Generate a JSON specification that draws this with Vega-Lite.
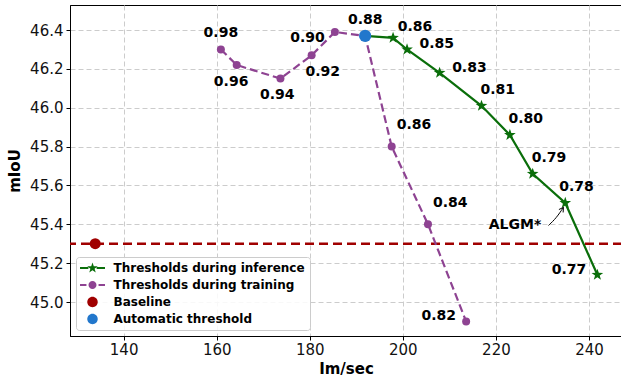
{
  "$schema": "https://vega.github.io/schema/vega-lite/v6.json",
  "width": 552,
  "height": 331,
  "autosize": {"type": "none"},
  "padding": {"left": 70, "top": 5, "right": 0, "bottom": 47},
  "config": {
    "font": "DejaVu Sans",
    "view": {"stroke": "black", "strokeWidth": 1},
    "axis": {
      "grid": true,
      "gridColor": "#cccccc", "gridDash": [5, 3], "gridWidth": 1,
      "domainColor": "black", "tickColor": "black", "tickSize": 4,
      "labelFont": "DejaVu Sans", "labelFontSize": 15, "labelColor": "#111111",
      "titleFont": "DejaVu Sans", "titleFontSize": 15, "titleFontWeight": "bold", "titleColor": "black"
    },
    "legend": {
      "orient": "bottom-left", "offset": 6, "padding": 5,
      "strokeColor": "#cccccc", "fillColor": "rgba(255,255,255,0.85)", "cornerRadius": 3,
      "labelFont": "DejaVu Sans", "labelFontWeight": "bold", "labelFontSize": 12, "labelColor": "black", "labelLimit": 400,
      "symbolOffset": 5.5, "labelOffset": 15, "rowPadding": 5,
      "symbolOpacity": 1, "symbolStrokeWidth": 0, "symbolSize": 121
    }
  },
  "datasets": {
    "train": [
      {"x": 160.9, "y": 46.30}, {"x": 164.3, "y": 46.22}, {"x": 173.7, "y": 46.15},
      {"x": 180.4, "y": 46.27}, {"x": 185.4, "y": 46.39}, {"x": 191.9, "y": 46.37},
      {"x": 197.6, "y": 45.80}, {"x": 205.4, "y": 45.40}, {"x": 213.6, "y": 44.90}
    ],
    "infer": [
      {"x": 191.9, "y": 46.37}, {"x": 197.9, "y": 46.36}, {"x": 200.9, "y": 46.30},
      {"x": 207.9, "y": 46.18}, {"x": 216.9, "y": 46.01}, {"x": 223.0, "y": 45.86},
      {"x": 227.9, "y": 45.66}, {"x": 234.9, "y": 45.51}, {"x": 241.8, "y": 45.14}
    ],
    "labels": [
      {"label": "0.98", "x": 160.9, "y": 46.383},
      {"label": "0.96", "x": 163.1, "y": 46.134},
      {"label": "0.94", "x": 173.0, "y": 46.064},
      {"label": "0.92", "x": 182.8, "y": 46.185},
      {"label": "0.90", "x": 179.5, "y": 46.358},
      {"label": "0.88", "x": 191.9, "y": 46.451},
      {"label": "0.86", "x": 202.4, "y": 45.911},
      {"label": "0.84", "x": 210.2, "y": 45.512},
      {"label": "0.82", "x": 207.7, "y": 44.927},
      {"label": "0.86", "x": 202.6, "y": 46.414},
      {"label": "0.85", "x": 207.3, "y": 46.327},
      {"label": "0.83", "x": 214.3, "y": 46.207},
      {"label": "0.81", "x": 220.4, "y": 46.091},
      {"label": "0.80", "x": 226.4, "y": 45.942},
      {"label": "0.79", "x": 231.4, "y": 45.743},
      {"label": "0.78", "x": 237.3, "y": 45.592},
      {"label": "0.77", "x": 235.7, "y": 45.165},
      {"label": "ALGM*", "x": 224.1, "y": 45.394}
    ],
    "arrow": [
      {"x": 231.3, "y": 45.394}, {"x": 233.0, "y": 45.433}, {"x": 234.5, "y": 45.487}
    ],
    "arrowhead": [
      {"x": 234.5, "y": 45.487, "x2": 233.53, "y2": 45.476},
      {"x": 234.5, "y": 45.487, "x2": 234.44, "y2": 45.461}
    ],
    "legend": [
      {"series": "Thresholds during inference"},
      {"series": "Thresholds during training"},
      {"series": "Baseline"},
      {"series": "Automatic threshold"}
    ]
  },
  "encoding": {
    "x": {"type": "quantitative", "scale": {"domain": [128.48, 247.09], "nice": false, "zero": false},
          "axis": {"values": [140, 160, 180, 200, 220, 240], "title": "Im/sec", "titlePadding": 4, "labelPadding": 2, "grid": true}},
    "y": {"type": "quantitative", "scale": {"domain": [44.825, 46.529], "nice": false, "zero": false},
          "axis": {"values": [45.0, 45.2, 45.4, 45.6, 45.8, 46.0, 46.2, 46.4], "format": ".1f", "title": "mIoU", "titlePadding": 7, "labelPadding": 3, "grid": true}}
  },
  "layer": [
    {
      "data": {"values": [{"baseline": 45.3}]},
      "mark": {"type": "rule", "color": "#a00000", "strokeWidth": 2.5, "strokeDash": [9, 5]},
      "encoding": {"y": {"field": "baseline"}}
    },
    {
      "data": {"name": "train"},
      "mark": {"type": "line", "color": "#8e4392", "strokeWidth": 2.2, "strokeDash": [8, 4], "point": {"filled": true, "size": 64, "color": "#8e4392", "opacity": 1}},
      "encoding": {"x": {"field": "x"}, "y": {"field": "y"}, "order": {"field": "x"}}
    },
    {
      "data": {"name": "infer"},
      "mark": {"type": "line", "color": "#0a6e0a", "strokeWidth": 2.2},
      "encoding": {"x": {"field": "x"}, "y": {"field": "y"}, "order": {"field": "x"}}
    },
    {
      "data": {"name": "infer"},
      "transform": [{"filter": "datum.x > 192"}],
      "mark": {"type": "point", "shape": "M0,-1 L0.235,-0.324 L0.951,-0.309 L0.38,0.124 L0.588,0.809 L0,0.4 L-0.588,0.809 L-0.38,0.124 L-0.951,-0.309 L-0.235,-0.324 Z", "filled": true, "size": 150, "color": "#0a6e0a", "opacity": 1},
      "encoding": {"x": {"field": "x"}, "y": {"field": "y"}}
    },
    {
      "data": {"values": [{"x": 133.9, "y": 45.3}]},
      "mark": {"type": "point", "shape": "circle", "filled": true, "size": 121, "color": "#a00000", "opacity": 1},
      "encoding": {"x": {"field": "x"}, "y": {"field": "y"}}
    },
    {
      "data": {"values": [{"x": 191.9, "y": 46.37}]},
      "mark": {"type": "point", "shape": "circle", "filled": true, "size": 150, "color": "#2277cc", "opacity": 1},
      "encoding": {"x": {"field": "x"}, "y": {"field": "y"}}
    },
    {
      "data": {"name": "labels"},
      "mark": {"type": "text", "font": "DejaVu Sans", "fontWeight": "bold", "fontSize": 14, "color": "black", "align": "center", "baseline": "middle"},
      "encoding": {"x": {"field": "x"}, "y": {"field": "y"}, "text": {"field": "label"}}
    },
    {
      "data": {"name": "arrow"},
      "mark": {"type": "line", "color": "black", "strokeWidth": 1, "interpolate": "basis"},
      "encoding": {"x": {"field": "x"}, "y": {"field": "y"}, "order": {"field": "x"}}
    },
    {
      "data": {"name": "arrowhead"},
      "mark": {"type": "rule", "color": "black", "strokeWidth": 1},
      "encoding": {"x": {"field": "x"}, "y": {"field": "y"}, "x2": {"field": "x2"}, "y2": {"field": "y2"}}
    },
    {
      "data": {"name": "legend"},
      "mark": {"type": "point", "filled": true, "size": 121, "opacity": 0},
      "encoding": {
        "x": {"datum": 150},
        "y": {"datum": 46.0},
        "color": {"field": "series", "type": "nominal",
          "scale": {"domain": ["Thresholds during inference", "Thresholds during training", "Baseline", "Automatic threshold"],
                    "range": ["#0a6e0a", "#8e4392", "#a00000", "#2277cc"]},
          "legend": {"title": null}},
        "shape": {"field": "series", "type": "nominal",
          "scale": {"domain": ["Thresholds during inference", "Thresholds during training", "Baseline", "Automatic threshold"],
                    "range": [
                      "M0,-1 L0.235,-0.324 L0.951,-0.309 L0.38,0.124 L0.588,0.809 L0,0.4 L-0.588,0.809 L-0.38,0.124 L-0.951,-0.309 L-0.235,-0.324 Z M-2.27,-0.2 H-0.75 V0.2 H-2.27 Z M0.75,-0.2 H2.27 V0.2 H0.75 Z",
                      "M-0.73,0 A0.73,0.73 0 1,0 0.73,0 A0.73,0.73 0 1,0 -0.73,0 Z M-2.27,-0.2 H-1.1 V0.2 H-2.27 Z M1.1,-0.2 H2.27 V0.2 H1.1 Z",
                      "M-0.95,0 A0.95,0.95 0 1,0 0.95,0 A0.95,0.95 0 1,0 -0.95,0 Z",
                      "M-0.95,0 A0.95,0.95 0 1,0 0.95,0 A0.95,0.95 0 1,0 -0.95,0 Z"
                    ]},
          "legend": {"title": null}}
      }
    }
  ]
}
